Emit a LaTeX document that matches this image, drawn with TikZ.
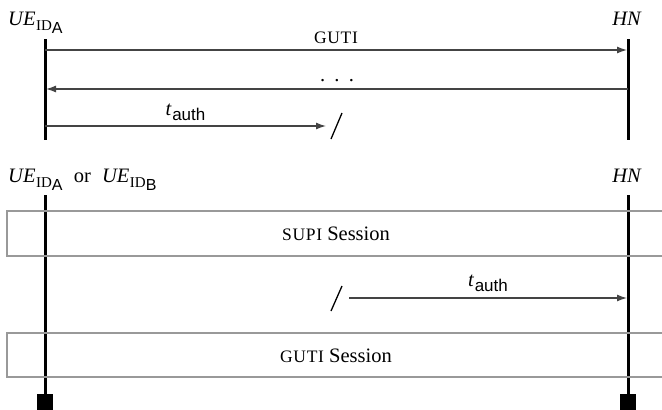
\documentclass[tikz,border=0pt]{standalone}
\usepackage{fontspec}
\setmainfont{Liberation Serif}
\setsansfont{Liberation Sans}
\usetikzlibrary{arrows.meta}
\definecolor{arrowgray}{HTML}{444444}
\definecolor{boxgray}{HTML}{999999}
\newcommand\fakesc[1]{{\fontsize{17.5}{20}\selectfont\addfontfeatures{LetterSpace=4} #1}}
\newcommand\UEid[1]{\textit{UE}\kern0.5pt\raisebox{-0.28em}{\fontsize{15}{17}\selectfont ID\raisebox{-0.2em}{\fontsize{16}{18}\sffamily #1}}}
\newcommand\tauth{\textit{t}\kern0.5pt\raisebox{-0.25em}{\fontsize{17}{19}\sffamily auth}}
\begin{document}
\begin{tikzpicture}[x=1pt,y=-1pt,
  every node/.style={font=\fontsize{20.5}{24}\selectfont, inner sep=0pt, text=black},
  lifeline/.style={line width=3pt, black},
  msg/.style={line width=1.3pt, arrowgray, -{Latex[length=10pt,width=7pt]}},
  slashmark/.style={line width=1.3pt, black},
  sessionbox/.style={draw=boxgray, line width=2pt},
  endsq/.style={fill=black, minimum width=16pt, minimum height=16pt, inner sep=0pt, draw=none}]
\useasboundingbox (0,0) rectangle (662,410);
\clip (0,0) rectangle (662,410);

% ---- top part ----
\node[anchor=base west] (ueA) at (8,25) {\UEid{A}};
\node[anchor=base] (hn1) at (627,25) {\textit{HN}};
\coordinate (ue1t) at (45,39);
\coordinate (ue1b) at (45,140);
\coordinate (hn1t) at (628,39);
\coordinate (hn1b) at (628,140);
\draw[lifeline] (ue1t) -- (ue1b);
\draw[lifeline] (hn1t) -- (hn1b);

\coordinate (m1s) at (45,50);
\coordinate (m1e) at (627,50);
\draw[msg] (m1s) -- node[above=6pt] (guti) {\fakesc{GUTI}} (m1e);

\coordinate (m2s) at (628,89);
\coordinate (m2e) at (46,89);
\draw[msg] (m2s) -- node[above=7pt] (dots) {.\hspace{0.45em}.\hspace{0.45em}.} (m2e);

\coordinate (m3s) at (45,126);
\coordinate (m3e) at (326,126);
\draw[msg] (m3s) -- node[above=5pt] (t1) {\tauth} (m3e);
\coordinate (sl1a) at (331,139);
\coordinate (sl1b) at (342,113);
\draw[slashmark] (sl1a) -- (sl1b);

% ---- bottom part ----
\node[anchor=base west] (ueAB) at (8,182) {\UEid{A}\hspace{0.55em}or\hspace{0.55em}\UEid{B}};
\node[anchor=base] (hn2) at (627,182) {\textit{HN}};
\coordinate (ue2t) at (45,195);
\coordinate (hn2t) at (628,195);
\node[endsq] (sqL) at (45,402) {};
\node[endsq] (sqR) at (628,402) {};
\draw[lifeline] (ue2t) -- (sqL.north);
\draw[lifeline] (hn2t) -- (sqR.north);

\draw[sessionbox] (7,211) rectangle (700,256);
\node (supi) at (336,234) {\fakesc{SUPI} Session};

\coordinate (m4s) at (349,298);
\coordinate (m4e) at (627,298);
\draw[msg] (m4s) -- node[above=6pt] (t2) {\tauth} (m4e);
\coordinate (sl2a) at (331,311);
\coordinate (sl2b) at (342,286);
\draw[slashmark] (sl2a) -- (sl2b);

\draw[sessionbox] (7,333) rectangle (700,377);
\node (gutis) at (336,356) {\fakesc{GUTI} Session};
\end{tikzpicture}
\end{document}
